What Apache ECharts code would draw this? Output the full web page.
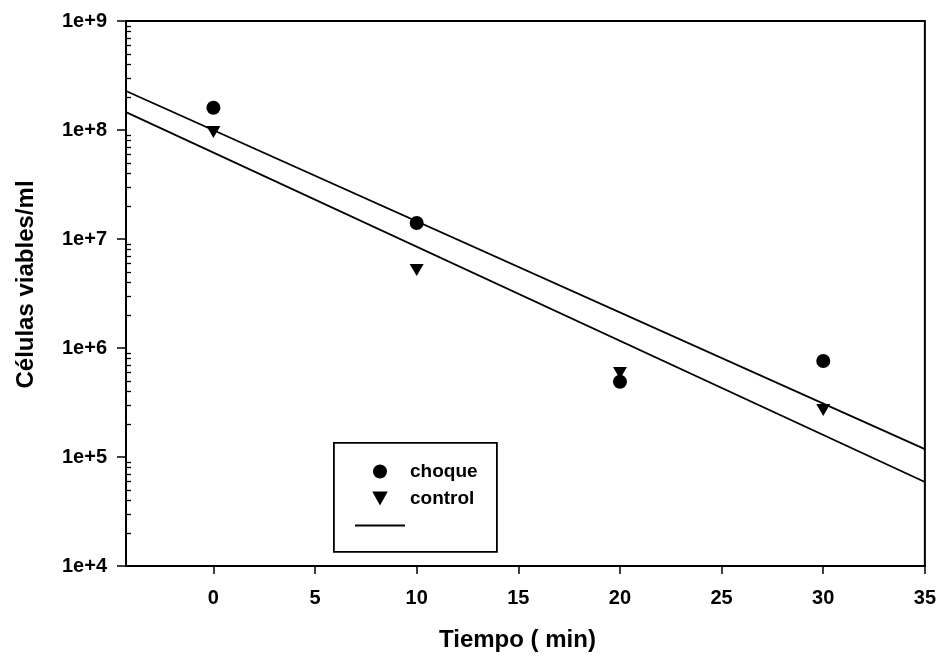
<!DOCTYPE html>
<html>
<head>
<meta charset="utf-8">
<script src="https://cdn.jsdelivr.net/npm/echarts@6/dist/echarts.min.js"></script>
<style>html,body{margin:0;padding:0;background:#fff;}#c{width:939px;height:658px;}</style>
</head>
<body>
<div id="c"></div>
<script>
// ---- data ----
const timeMin = [0, 10, 20, 30];
const choque = [1.6e8, 1.4e7, 4.9e5, 7.6e5];
const control = [9.6e7, 5.2e6, 5.9e5, 2.7e5];
// fitted regression lines (endpoints at the axis limits)
const fitX = [-4.3, 35];
const fitChoque = [2.28e8, 1.18e5];
const fitControl = [1.46e8, 5.9e4];
const xTicks = [0, 5, 10, 15, 20, 25, 30, 35];
const yDecades = [1e4, 1e5, 1e6, 1e7, 1e8, 1e9];
const yMinorMultipliers = [2, 3, 4, 5, 6, 7, 8, 9];

const yMinor = [];
yDecades.slice(0, -1).forEach(d => yMinorMultipliers.forEach(m => yMinor.push(d * m)));

const pair = (xs, ys) => xs.map((x, i) => [x, ys[i]]);
const FONT = 'Liberation Sans, Arial, sans-serif';
const tri = 'path://M0,0 L10,0 L5,9 Z';

const chart = echarts.init(document.getElementById('c'));
chart.setOption({
  animation: false,
  backgroundColor: '#fff',
  grid: { left: 126, right: 13, top: 21, bottom: 92, show: true, borderColor: '#000', borderWidth: 2, backgroundColor: 'transparent' },
  xAxis: {
    type: 'value', min: fitX[0], max: fitX[1],
    name: 'Tiempo ( min)', nameLocation: 'middle', nameGap: 62,
    nameTextStyle: { fontFamily: FONT, fontSize: 24, fontWeight: 'bold', color: '#000', padding: [0, 16, 0, 0] },
    axisLine: { onZero: false, lineStyle: { color: '#000', width: 2 } },
    axisTick: { show: true, length: 8, inside: false, customValues: xTicks, lineStyle: { color: '#000', width: 1.5 } },
    axisLabel: { customValues: xTicks, margin: 22, fontFamily: FONT, fontSize: 20, fontWeight: 'bold', color: '#000' },
    splitLine: { show: false }
  },
  yAxis: [{
    type: 'log', logBase: 10, min: 1e4, max: 1e9, interval: 1,
    name: 'Células viables/ml', nameLocation: 'middle', nameGap: 88,
    nameTextStyle: { fontFamily: FONT, fontSize: 24, fontWeight: 'bold', color: '#000', padding: [0, 0, 0, 18] },
    axisLine: { show: true, onZero: false, lineStyle: { color: '#000', width: 1.5 } },
    axisTick: { show: true, length: 9, inside: false, lineStyle: { color: '#000', width: 1.5 } },
    axisLabel: { margin: 19, fontFamily: FONT, fontSize: 20, fontWeight: 'bold', color: '#000',
      formatter: v => '1e+' + Math.round(Math.log10(v)) },
    splitLine: { show: false }
  }, {
    type: 'log', logBase: 10, min: 1e4, max: 1e9, position: 'left',
    axisLine: { show: false, onZero: false },
    axisTick: { show: true, inside: true, length: 5, customValues: yMinor, lineStyle: { color: '#000', width: 1.3 } },
    axisLabel: { show: false },
    splitLine: { show: false }
  }],
  legend: {
    orient: 'vertical', left: 349, top: 457,
    itemWidth: 50, itemHeight: 14, itemGap: 8,
    textStyle: { fontFamily: FONT, fontSize: 19, fontWeight: 'bold', color: '#000' },
    data: [
      { name: 'choque', icon: 'circle', itemStyle: { opacity: 1 } },
      { name: 'control', icon: tri, itemStyle: { opacity: 1 } },
      { name: ' ', itemStyle: { opacity: 0 } }
    ],
    selectedMode: false
  },
  graphic: [{
    type: 'rect', left: 333, top: 442, z: 0,
    shape: { width: 163, height: 109 },
    style: { fill: 'transparent', stroke: '#000', lineWidth: 1.8 }
  }],
  series: [
    { name: ' ', type: 'line', data: pair(fitX, fitChoque), symbol: 'none', lineStyle: { color: '#000', width: 1.8 }, itemStyle: { color: '#000' } },
    { name: ' ', type: 'line', data: pair(fitX, fitControl), symbol: 'none', lineStyle: { color: '#000', width: 1.8 }, itemStyle: { color: '#000' } },
    { name: 'choque', type: 'scatter', data: pair(timeMin, choque), symbol: 'circle', symbolSize: 14, itemStyle: { color: '#000', opacity: 1 }, z: 5 },
    { name: 'control', type: 'scatter', data: pair(timeMin, control), symbol: tri, symbolSize: [14, 12], itemStyle: { color: '#000', opacity: 1 }, z: 5 }
  ]
});
</script>
</body>
</html>
